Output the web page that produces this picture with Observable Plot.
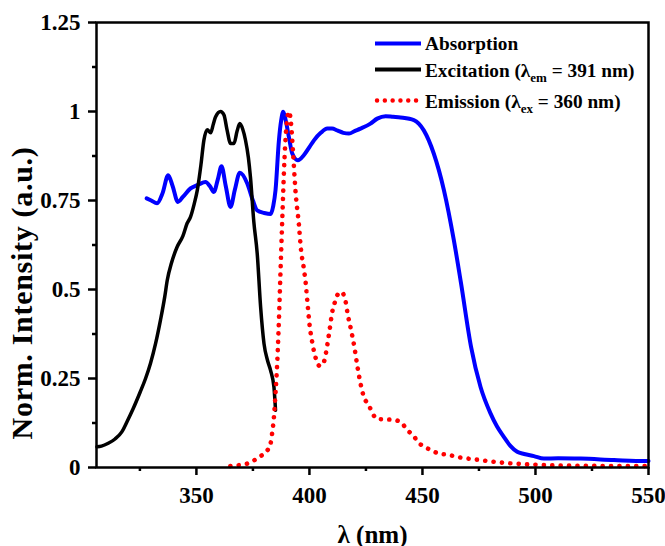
<!DOCTYPE html>
<html>
<head>
<meta charset="utf-8">
<script src="https://cdn.jsdelivr.net/npm/d3@7"></script>
<script src="https://cdn.jsdelivr.net/npm/@observablehq/plot@0.6"></script>
<style>
  html, body { margin: 0; padding: 0; background: #fff; }
  #chart svg { display: block; }
  #chart svg, #chart svg text, #chart svg tspan { font-family: "Liberation Serif", "Tinos", "DejaVu Serif", serif !important; }
  .ylab text { letter-spacing: 0.7px; }
</style>
</head>
<body>
<div id="chart"></div>
<script>
// ---- Data ----
const absWl = [328, 330, 332.6, 335, 337.5, 339.5, 341.8, 344, 347.4, 351, 354, 356, 357.7, 359.5, 361.1, 363, 365.1, 367, 369.2, 372.5, 375, 376.9, 380, 382.8, 384, 385, 386.5, 387.5, 388.4, 389.5, 390.9, 392.4, 394.9, 397.5, 400, 402, 405, 407.9, 410, 412.3, 415, 417.5, 420, 422.6, 427, 430, 433.7, 437, 440.3, 446.2, 450.6, 455, 459.5, 463.9, 467, 471.5, 475.7, 480.1, 483, 486, 489, 491.9, 495, 499.3, 503.7, 510, 520, 534.7, 548.7, 550];
const absVal = [0.756, 0.75, 0.742, 0.77, 0.821, 0.79, 0.746, 0.76, 0.784, 0.795, 0.802, 0.79, 0.774, 0.81, 0.846, 0.79, 0.732, 0.78, 0.828, 0.798, 0.75, 0.722, 0.715, 0.712, 0.735, 0.779, 0.919, 0.975, 0.999, 0.975, 0.929, 0.882, 0.863, 0.877, 0.9, 0.919, 0.94, 0.952, 0.952, 0.947, 0.94, 0.938, 0.945, 0.952, 0.966, 0.98, 0.987, 0.985, 0.983, 0.976, 0.947, 0.882, 0.779, 0.638, 0.52, 0.339, 0.226, 0.152, 0.115, 0.086, 0.06, 0.044, 0.038, 0.032, 0.025, 0.026, 0.025, 0.021, 0.018, 0.018];

const excWl = [306, 308, 311, 314, 317, 319.4, 322, 325, 327.5, 329.7, 332, 334.1, 336, 337.1, 339, 341.5, 344, 345.9, 347.4, 349, 350.4, 352, 353.3, 354.8, 356.3, 357.5, 358.5, 360.7, 362.2, 363.5, 365.1, 366.6, 368, 369.2, 370.5, 371.7, 373, 373.9, 375.4, 376.9, 378.4, 379.9, 381.5, 382.8, 384.3, 385];
const excVal = [0.058, 0.06, 0.068, 0.08, 0.1, 0.13, 0.165, 0.21, 0.25, 0.293, 0.35, 0.414, 0.48, 0.526, 0.575, 0.62, 0.65, 0.686, 0.704, 0.74, 0.779, 0.85, 0.919, 0.949, 0.94, 0.965, 0.985, 1.0, 0.99, 0.95, 0.91, 0.91, 0.945, 0.966, 0.95, 0.92, 0.87, 0.816, 0.69, 0.601, 0.451, 0.348, 0.3, 0.273, 0.226, 0.161];

const emWl = [365, 368, 372.5, 375.5, 378.4, 381.3, 382.8, 383.5, 384.3, 385, 386, 386.5, 387.2, 388, 389, 390, 391, 391.8, 392.8, 393.8, 395.3, 396.3, 397.5, 398.3, 399.3, 400, 401.2, 402.7, 404.6, 406.4, 407.9, 409, 410.1, 411.1, 412.3, 414.1, 415.7, 417, 418.6, 420, 421.2, 422.6, 424.1, 426.3, 427.8, 430.3, 433.7, 437.1, 440.8, 443.3, 445.8, 448.4, 451, 454.3, 457.3, 461, 466.9, 474.2, 481.6, 490.5, 499.3, 508.2, 520, 535, 550];
const emVal = [0.004, 0.006, 0.011, 0.02, 0.032, 0.047, 0.067, 0.096, 0.142, 0.208, 0.33, 0.414, 0.55, 0.7, 0.872, 0.97, 1.0, 0.97, 0.88, 0.779, 0.685, 0.61, 0.56, 0.521, 0.451, 0.404, 0.353, 0.309, 0.285, 0.297, 0.344, 0.39, 0.437, 0.461, 0.484, 0.493, 0.475, 0.428, 0.381, 0.334, 0.285, 0.236, 0.198, 0.175, 0.153, 0.136, 0.135, 0.134, 0.125, 0.105, 0.091, 0.069, 0.058, 0.047, 0.039, 0.036, 0.028, 0.022, 0.016, 0.011, 0.008, 0.006, 0.005, 0.004, 0.004];

const xMajor = [350, 400, 450, 500, 550];
const xMinor = [325, 375, 425, 475, 525];
const yMajor = [0, 0.25, 0.5, 0.75, 1, 1.25];
const yMinor = [0.125, 0.375, 0.625, 0.875, 1.125];
const xDomain = [305.8, 550];
const yDomain = [0, 1.25];

const seriesNames = ["Absorption", "Excitation", "Emission"];
const seriesColors = ["#0000ff", "#000000", "#ff0000"];

const toRows = (xs, ys) => xs.map((x, i) => ({x, y: ys[i]}));
const absData = toRows(absWl, absVal);
const excData = toRows(excWl, excVal);
const emData = toRows(emWl, emVal);

const FONT = "'Liberation Serif', 'Tinos', 'DejaVu Serif', serif";

const chart = Plot.plot({
  width: 665,
  height: 546,
  marginLeft: 96,
  marginRight: 17,
  marginTop: 22,
  marginBottom: 79,
  style: {fontFamily: FONT, fontWeight: "bold", background: "#fff", color: "#000", overflow: "visible"},
  x: {domain: xDomain},
  y: {domain: yDomain},
  marks: [
    Plot.line(absData, {x: "x", y: "y", stroke: seriesColors[0], strokeWidth: 4, curve: "monotone-x"}),
    Plot.line(excData, {x: "x", y: "y", stroke: seriesColors[1], strokeWidth: 3.5, curve: "monotone-x"}),
    Plot.line(emData, {x: "x", y: "y", stroke: seriesColors[2], strokeWidth: 4.6, strokeDasharray: "0.1 8.3", strokeLinecap: "round", curve: "monotone-x"}),
    Plot.frame({stroke: "#000", strokeWidth: 2.5}),
    Plot.axisX({ticks: xMajor, tickSize: 8, tickPadding: 11, tickFormat: d => String(d), fontSize: 23, fontWeight: "bold", strokeWidth: 2.5, label: null}),
    Plot.axisX({ticks: xMinor, tickSize: 4, tickFormat: () => "", strokeWidth: 2.5, label: null}),
    Plot.axisY({ticks: yMajor, tickSize: 8, tickPadding: 8, tickFormat: d => String(d), fontSize: 23, fontWeight: "bold", strokeWidth: 2.5, label: null}),
    Plot.axisY({ticks: yMinor, tickSize: 4, tickFormat: () => "", strokeWidth: 2.5, label: null}),
    Plot.text(["λ (nm)"], {frameAnchor: "bottom", lineAnchor: "middle", textAnchor: "middle", dy: 67, fontSize: 25, fontWeight: "bold", fill: "#000"}),
    Plot.text(["Norm. Intensity (a.u.)"], {frameAnchor: "left", lineAnchor: "middle", textAnchor: "middle", rotate: -90, dx: -74, dy: 48, fontSize: 30, fontWeight: "bold", fill: "#000", className: "ylab"})
  ]
});

document.getElementById("chart").appendChild(chart);

// ---- Legend inside the plot area ----
const svg = d3.select(chart);
const lg = svg.append("g").attr("font-family", FONT).attr("font-weight", "bold").attr("font-size", 19.3).attr("fill", "#000").attr("text-anchor", "start");
const rows = [
  {y: 43.5, base: 50, parts: [["Absorption"]]},
  {y: 69.5, base: 76.5, parts: [["Excitation (λ"], ["em", true], [" = 391 nm)"]]},
  {y: 100.5, base: 107.5, parts: [["Emission (λ"], ["ex", true], [" = 360 nm)"]]}
];
rows.forEach((r, i) => {
  const line = lg.append("line")
    .attr("x1", 375).attr("x2", 421).attr("y1", r.y).attr("y2", r.y)
    .attr("stroke", seriesColors[i]).attr("stroke-width", i === 2 ? 4.4 : 4);
  if (i === 2) line.attr("stroke-dasharray", "0.1 7.7").attr("stroke-linecap", "round").attr("x1", 377);
  const t = lg.append("text").attr("x", 425).attr("y", r.base);
  r.parts.forEach(([s, sub], k) => {
    const ts = t.append("tspan").text(s);
    if (sub) ts.attr("font-size", 13).attr("dy", 5);
    else if (k > 0) ts.attr("dy", -5);
  });
});
</script>
</body>
</html>
